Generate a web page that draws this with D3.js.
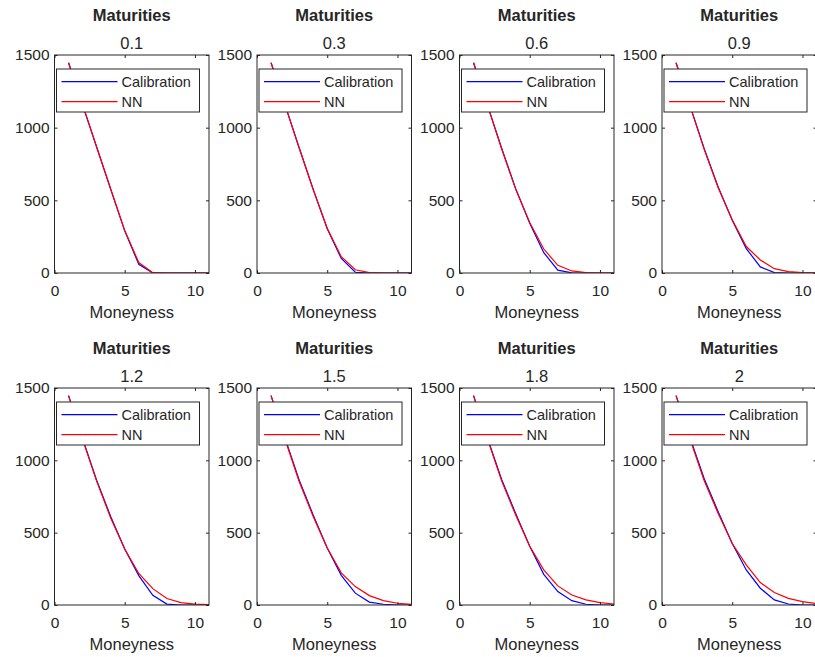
<!DOCTYPE html>
<html><head><meta charset="utf-8">
<script src="https://cdn.jsdelivr.net/npm/d3@7"></script>
<style>body{margin:0;background:#fff}svg{display:block}text{font-family:"Liberation Sans",Arial,sans-serif;fill:#262626}</style>
</head><body><div id="chart"></div>
<script>
const moneyness = [1,2,3,4,5,6,7,8,9,10,11];
const maturities = ["0.1","0.3","0.6","0.9","1.2","1.5","1.8","2"];
const xTicks = [0,5,10];
const yTicks = [0,500,1000,1500];
const seriesNames = ["Calibration","NN"];

const cal_01 = [1447,1157,867,577,290,60,0,0,0,0,0];
const nn_01  = [1447,1157,867,578,292,72,2,0,0,0,0];
const cal_03 = [1447,1155,862,575,305,100,5,0,0,0,0];
const nn_03  = [1447,1155,862,575,308,112,22,3,0,0,0];
const cal_06 = [1447,1152,858,580,342,140,20,1,0,0,0];
const nn_06  = [1447,1152,855,577,347,165,53,14,3,0,0];
const cal_09 = [1447,1150,857,592,363,168,42,3,0,0,0];
const nn_09  = [1447,1148,852,587,366,182,90,30,10,3,1];
const cal_12 = [1447,1150,862,612,387,203,67,6,0,0,0];
const nn_12  = [1447,1145,856,602,387,218,113,45,17,6,2];
const cal_15 = [1447,1151,865,622,394,205,82,20,5,0,0];
const nn_15  = [1447,1144,854,612,394,222,127,65,30,12,5];
const cal_18 = [1447,1152,868,632,406,212,93,30,5,0,0];
const nn_18  = [1447,1145,858,622,406,243,132,69,35,17,7];
const cal_20 = [1447,1155,874,645,425,242,116,35,7,0,0];
const nn_20  = [1447,1145,860,632,425,277,155,86,46,23,10];

const calibration = [cal_01,cal_03,cal_06,cal_09,cal_12,cal_15,cal_18,cal_20];
const nn = [nn_01,nn_03,nn_06,nn_09,nn_12,nn_15,nn_18,nn_20];

const W = 815, H = 657;
const svg = d3.select("#chart").append("svg").attr("width", W).attr("height", H);
const lefts = [54.5, 257, 459.5, 662];
const tops = [55, 388], bottoms = [273, 605];
const pw = 154.5;
const axisColor = "#262626";

maturities.forEach((m, i) => {
  const col = i % 4, row = Math.floor(i / 4);
  const L = lefts[col], T = tops[row], B = bottoms[row];
  const x = d3.scaleLinear().domain([0, 11]).range([L, L + pw]);
  const y = d3.scaleLinear().domain([0, 1500]).range([B, T]);
  const g = svg.append("g");

  const clipId = "clip" + i;
  g.append("clipPath").attr("id", clipId).append("rect")
    .attr("x", L).attr("y", T - 2).attr("width", pw).attr("height", B - T + 2);

  const line = d3.line().x((d, k) => x(moneyness[k])).y(d => y(d));
  const lg = g.append("g").attr("clip-path", `url(#${clipId})`);
  lg.append("path").datum(calibration[i]).attr("d", line)
    .attr("fill", "none").attr("stroke", "#0000ff").attr("stroke-width", 1.2);
  lg.append("path").datum(nn[i]).attr("d", line)
    .attr("fill", "none").attr("stroke", "#ff0000").attr("stroke-width", 1.2);

  const fmt = d3.format("d");
  const bx = g.append("g").attr("transform", `translate(0,${B})`)
    .call(d3.axisBottom(x).tickValues(xTicks).tickFormat(fmt).tickSizeInner(-3).tickSizeOuter(0).tickPadding(12));
  const ly = g.append("g").attr("transform", `translate(${L},0)`)
    .call(d3.axisLeft(y).tickValues(yTicks).tickFormat(fmt).tickSizeInner(-3).tickSizeOuter(0).tickPadding(5));
  const tx = g.append("g").attr("transform", `translate(0,${T})`)
    .call(d3.axisTop(x).tickValues(xTicks).tickSizeInner(-3).tickSizeOuter(0).tickFormat(""));
  const ry = g.append("g").attr("transform", `translate(${L + pw},0)`)
    .call(d3.axisRight(y).tickValues(yTicks).tickSizeInner(-3).tickSizeOuter(0).tickFormat(""));
  [bx, ly, tx, ry].forEach(a => {
    a.select(".domain").remove();
    a.selectAll("line").attr("stroke", axisColor);
    a.selectAll("text").attr("font-size", 15.5).attr("fill", "#404040")
      .style("font-family", '"Liberation Sans", Arial, sans-serif');
  });

  g.append("rect").attr("x", L).attr("y", T).attr("width", pw).attr("height", B - T)
    .attr("fill", "none").attr("stroke", axisColor).attr("stroke-width", 1);

  const cx = L + pw / 2;
  g.append("text").attr("x", cx).attr("y", T - 34).attr("text-anchor", "middle")
    .attr("font-size", 16.5).attr("font-weight", "bold").attr("fill", "#000").text("Maturities");
  g.append("text").attr("x", cx).attr("y", T - 6.5).attr("text-anchor", "middle")
    .attr("font-size", 16.5).attr("fill", "#000").text(m);
  g.append("text").attr("x", cx).attr("y", B + 45).attr("text-anchor", "middle")
    .attr("font-size", 16.5).attr("fill", "#404040").text("Moneyness");

  const lgd = g.append("g");
  lgd.append("rect").attr("x", L + 2).attr("y", T + 14).attr("width", 143).attr("height", 43)
    .attr("fill", "#fff").attr("stroke", axisColor).attr("stroke-width", 1);
  const cols = ["#0000ff", "#ff0000"];
  seriesNames.forEach((s, k) => {
    const yy = T + 26.7 + k * 20;
    lgd.append("line").attr("x1", L + 7).attr("x2", L + 63).attr("y1", yy).attr("y2", yy)
      .attr("stroke", cols[k]).attr("stroke-width", 1.2);
    lgd.append("text").attr("x", L + 67).attr("y", yy + 5.3).attr("font-size", 14.5)
      .attr("fill", "#000").text(s);
  });
});
</script></body></html>
